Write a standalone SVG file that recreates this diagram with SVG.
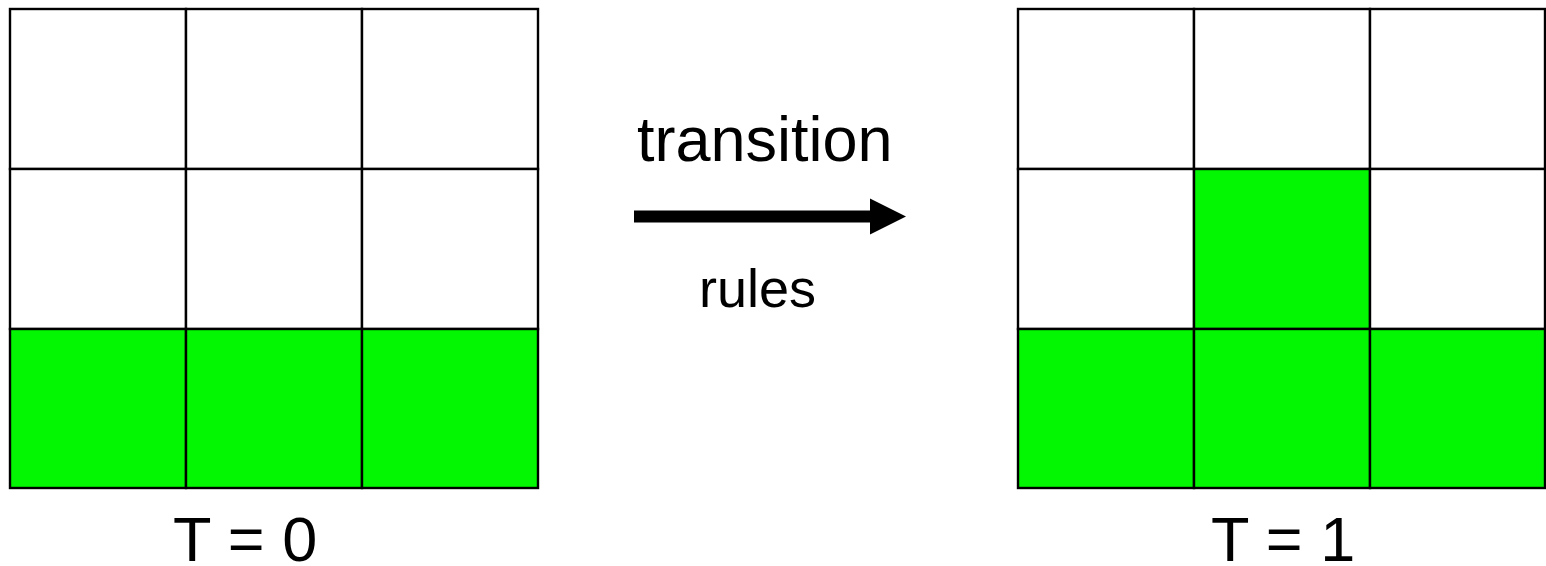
<svg xmlns="http://www.w3.org/2000/svg" width="1546" height="566" viewBox="0 0 1546 566">
  <style>
    .cell { stroke: #000; stroke-width: 2.4; }
    .off { fill: #ffffff; }
    .on { fill: #03f703; }
    .lbl { font-family: "Liberation Sans", Arial, sans-serif; fill: #000; }
  </style>
  <defs>
    <marker id="head" markerUnits="userSpaceOnUse" markerWidth="36" markerHeight="38" refX="0" refY="19" orient="auto">
      <path d="M0,1 L36,19 L0,37 Z" fill="#000"/>
    </marker>
  </defs>
  <rect width="1546" height="566" fill="#fff"/>

  <!-- state at T = 0 -->
  <g id="grid-t0">
    <rect class="cell off" x="10" y="9" width="176" height="160"/>
    <rect class="cell off" x="186" y="9" width="176" height="160"/>
    <rect class="cell off" x="362" y="9" width="176" height="160"/>
    <rect class="cell off" x="10" y="169" width="176" height="160"/>
    <rect class="cell off" x="186" y="169" width="176" height="160"/>
    <rect class="cell off" x="362" y="169" width="176" height="160"/>
    <rect class="cell on" x="10" y="329" width="176" height="159"/>
    <rect class="cell on" x="186" y="329" width="176" height="159"/>
    <rect class="cell on" x="362" y="329" width="176" height="159"/>
  </g>
  <g id="label-t0">
    <text class="lbl" x="173" y="561" font-size="63">T = 0</text>
  </g>

  <!-- state at T = 1 -->
  <g id="grid-t1">
    <rect class="cell off" x="1018" y="9" width="176" height="160"/>
    <rect class="cell off" x="1194" y="9" width="176" height="160"/>
    <rect class="cell off" x="1370" y="9" width="175" height="160"/>
    <rect class="cell off" x="1018" y="169" width="176" height="160"/>
    <rect class="cell on" x="1194" y="169" width="176" height="160"/>
    <rect class="cell off" x="1370" y="169" width="175" height="160"/>
    <rect class="cell on" x="1018" y="329" width="176" height="159"/>
    <rect class="cell on" x="1194" y="329" width="176" height="159"/>
    <rect class="cell on" x="1370" y="329" width="175" height="159"/>
  </g>
  <g id="label-t1">
    <text class="lbl" x="1211" y="561" font-size="63">T = 1</text>
  </g>

  <!-- transition arrow -->
  <g id="connectors">
    <line x1="634" y1="216.5" x2="870" y2="216.5" stroke="#000" stroke-width="12" marker-end="url(#head)"/>
  </g>
  <g id="arrow-labels">
    <text class="lbl" x="637" y="161" font-size="63">transition</text>
    <text class="lbl" x="699" y="307" font-size="54">rules</text>
  </g>
</svg>
